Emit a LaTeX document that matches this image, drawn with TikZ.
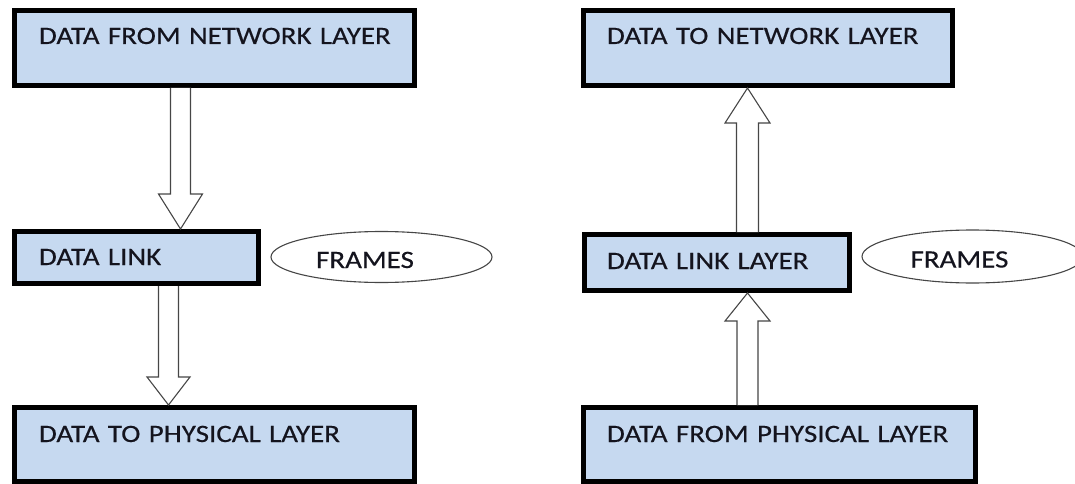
\documentclass[tikz,border=0pt]{standalone}
\usepackage{fontspec}
\setmainfont[FakeStretch=1.16,FakeBold=0.4]{Carlito}
\usetikzlibrary{shapes.geometric,calc}
\definecolor{boxblue}{RGB}{198,217,240}
\definecolor{edgegray}{RGB}{70,70,70}
\definecolor{inkcol}{RGB}{20,20,30}
\newcommand\blockarr[5]{%
  \draw[barrow] let \p1=(#1), \p2=(#2) in
    (\x1-#3,\y1) -- (\x1-#3,\y2+#5) -- (\x1-#4,\y2+#5) -- (\x2,\y2)
    -- (\x1+#4,\y2+#5) -- (\x1+#3,\y2+#5) -- (\x1+#3,\y1);}
\tikzset{
  txt/.style={font=\fontsize{25pt}{30pt}\selectfont, text=inkcol},
  layerbox/.style={txt, draw=black, line width=5pt, fill=boxblue, anchor=north west,
    align=left, inner ysep=10pt},
  frameell/.style={txt, ellipse, draw=edgegray, line width=1.1pt, fill=white,
    minimum width=221pt, minimum height=51pt, inner sep=0pt,
    text height=22pt, text depth=0pt},
  barrow/.style={draw=edgegray, line width=1.1pt, fill=white}
}
\begin{document}
\begin{tikzpicture}[x=1pt, y=-1pt]
\useasboundingbox (0,0) rectangle (1075,484);
% left column
\node[layerbox, inner xsep=24.5pt, text width=351pt, text height=23.5pt, text depth=31.5pt]
  (A) at (12,8) {\mbox{DATA FROM NETWORK LAYER}};
\node[layerbox, inner xsep=24.5pt, text width=195pt, text height=23.5pt, text depth=8.5pt]
  (B) at (12,229) {\mbox{DATA LINK}};
\node[layerbox, inner xsep=24.5pt, text width=351pt, text height=24.5pt, text depth=29.5pt]
  (C) at (12,405) {\mbox{DATA TO PHYSICAL LAYER}};
\node[frameell] (FL) at (381.5,257) {\hbox{FRAMES\kern33pt}};
% right column
\node[layerbox, inner xsep=23.5pt, text width=322pt, text height=23.5pt, text depth=31.5pt]
  (D) at (581,8) {\mbox{DATA TO NETWORK LAYER}};
\node[layerbox, inner xsep=22.5pt, text width=220pt, text height=24.5pt, text depth=11.5pt]
  (E) at (582,232) {\mbox{DATA LINK LAYER}};
\node[layerbox, inner xsep=23.5pt, text width=345pt, text height=24.5pt, text depth=29.5pt]
  (F) at (581,405) {\mbox{DATA FROM PHYSICAL LAYER}};
\node[frameell, minimum height=53pt] (FR) at (972.5,256.5) {\hbox{FRAMES\kern26pt}};
% block arrows
\blockarr{A.south -| 180.5,0}{B.north -| 180.5,0}{10pt}{22pt}{35pt}
\blockarr{B.south -| 168.5,0}{C.north -| 168.5,0}{10pt}{21.5pt}{28pt}
\blockarr{F.north -| 747.5,0}{E.south -| 747.5,0}{10.5pt}{22.5pt}{-28pt}
\blockarr{E.north -| 747.5,0}{D.south -| 747.5,0}{11pt}{22.5pt}{-35pt}
\end{tikzpicture}
\end{document}
